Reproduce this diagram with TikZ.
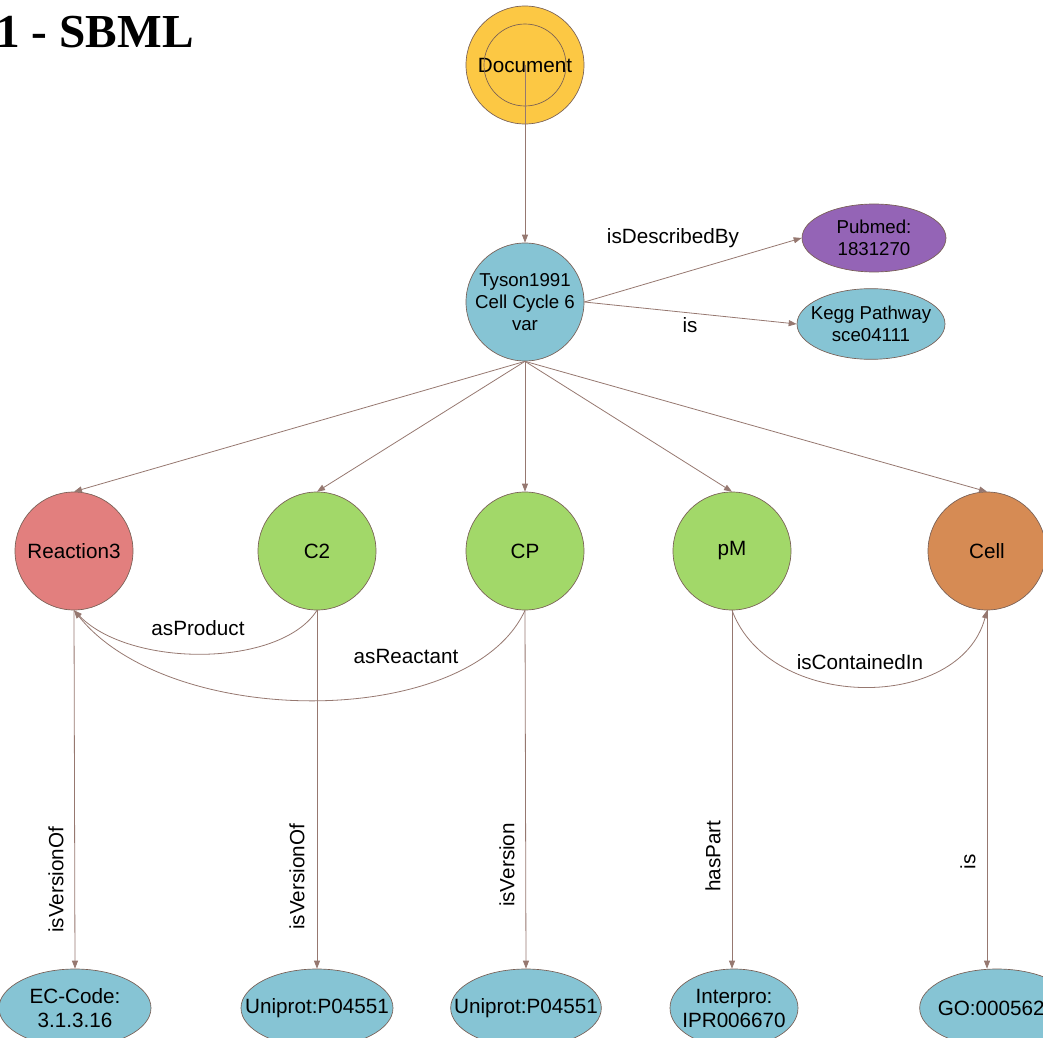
\documentclass[tikz,border=0pt]{standalone}
\usepackage{fontspec}
\setmainfont{Liberation Sans}
\newfontfamily\titlefont{Liberation Serif}
\usetikzlibrary{shapes.geometric, arrows.meta}

\definecolor{docyellow}{RGB}{252,200,68}
\definecolor{annoblue}{RGB}{134,196,212}
\definecolor{pubpurple}{RGB}{148,100,182}
\definecolor{reactred}{RGB}{226,127,126}
\definecolor{specgreen}{RGB}{162,216,105}
\definecolor{cellorange}{RGB}{214,139,84}
\definecolor{linkbrown}{RGB}{150,120,112}
\definecolor{rimbrown}{RGB}{120,95,85}

\begin{document}
\begin{tikzpicture}[x=0.75pt,y=0.75pt,yscale=-1,xscale=1,
  entity/.style={circle, draw=rimbrown, line width=0.5pt, minimum size=88.5pt, inner sep=0pt, align=center, font=\fontsize{15.5}{18}\selectfont},
  anno/.style={ellipse, draw=rimbrown, line width=0.5pt, fill=annoblue, inner xsep=-20pt, inner ysep=-8pt, align=center},
  link/.style={draw=linkbrown, line width=0.6pt, -{Triangle[length=6pt,width=4.5pt]}},
  linklabel/.style={font=\fontsize{15.5}{18}\selectfont, inner sep=1pt}]
\useasboundingbox (0,0) rectangle (1043,1038);

% Title
\node[anchor=base east, inner sep=0pt, font=\titlefont\bfseries\fontsize{35.5}{40}\selectfont] (title) at (194,48) {1 - SBML};

% Document
\node[entity, fill=docyellow] (doc) at (525,65) {Document};
\draw[rimbrown, line width=0.5pt] (doc.center) circle [radius=41];

% Model
\node[entity, fill=annoblue, font=\fontsize{14}{16.5}\selectfont] (tyson) at (525,302) {Tyson1991\\Cell Cycle 6\\var};
\node[anno, fill=pubpurple, minimum width=108pt, minimum height=51pt, font=\fontsize{14}{16.5}\selectfont] (pubmed) at (874,238) {Pubmed:\\1831270};
\node[anno, minimum width=111pt, minimum height=53pt, font=\fontsize{14}{16.5}\selectfont] (kegg) at (871,324) {Kegg Pathway\\sce04111};

% Model elements
\node[entity, fill=reactred] (reaction) at (74,551) {Reaction3};
\node[entity, fill=specgreen] (ctwo) at (317,551) {C2};
\node[entity, fill=specgreen] (cp) at (525,551) {CP};
\node[entity, fill=specgreen] (pm) at (732,551) {pM};
\node[entity, fill=cellorange] (cell) at (987,551) {Cell};

% Annotations
\node[anno, minimum width=114pt, minimum height=58.5pt, font=\fontsize{15.5}{18}\selectfont] (eccode) at (75,1008) {EC-Code:\\3.1.3.16};
\node[anno, minimum width=114pt, minimum height=58.5pt, font=\fontsize{15.5}{18}\selectfont] (uniprotA) at (317,1008) {Uniprot:P04551};
\node[anno, minimum width=113pt, minimum height=58.5pt, font=\fontsize{15.5}{18}\selectfont] (uniprotB) at (526,1008) {Uniprot:P04551};
\node[anno, minimum width=96pt, minimum height=58.5pt, font=\fontsize{15.5}{18}\selectfont] (interpro) at (734,1008) {Interpro:\\IPR006670};
\node[anno, minimum width=116pt, minimum height=58.5pt, font=\fontsize{15.5}{18}\selectfont] (goterm) at (997,1008) {GO:0005623};

% Links
\draw[link] (doc.center) -- (tyson.north);
\draw[link] (tyson.east) -- (pubmed.west);
\draw[link] (tyson.east) -- (kegg.west);
\draw[link] (tyson.south) -- (reaction.north);
\draw[link] (tyson.south) -- (ctwo.north);
\draw[link] (tyson.south) -- (cp.north);
\draw[link] (tyson.south) -- (pm.north);
\draw[link] (tyson.south) -- (cell.north);

\draw[link] (ctwo.south) .. controls (280,668) and (130,668) .. (reaction.south);
\draw[link] (cp.south) .. controls (470,730) and (170,730) .. (reaction.south);
\draw[link] (pm.south) .. controls (770,712) and (960,712) .. (cell.south);

\draw[link] (reaction.south) -- (eccode.north);
\draw[link] (ctwo.south) -- (uniprotA.north);
\draw[link] (cp.south) -- (uniprotB.north);
\draw[link] (pm.south) -- (pm.south |- interpro.north);
\draw[link] (cell.south) -- (cell.south |- goterm.north);

% Text Node
\node[linklabel] (lbldesc) at (673,238) {isDescribedBy};
\node[linklabel] (lblis) at (690,325) {is};
\node[linklabel] (lblprod) at (198,628) {asProduct};
\node[linklabel] (lblreact) at (406,656) {asReactant};
\node[linklabel] (lblcont) at (860,662) {isContainedIn};
\node[linklabel, rotate=90] (lblvera) at (56,880) {isVersionOf};
\node[linklabel, rotate=90] (lblverb) at (297,877) {isVersionOf};
\node[linklabel, rotate=90] (lblver) at (507,865) {isVersion};
\node[linklabel, rotate=90] (lblpart) at (713,856) {hasPart};
\node[linklabel, rotate=90] (lblisgo) at (968,862) {is};

\end{tikzpicture}
\end{document}
